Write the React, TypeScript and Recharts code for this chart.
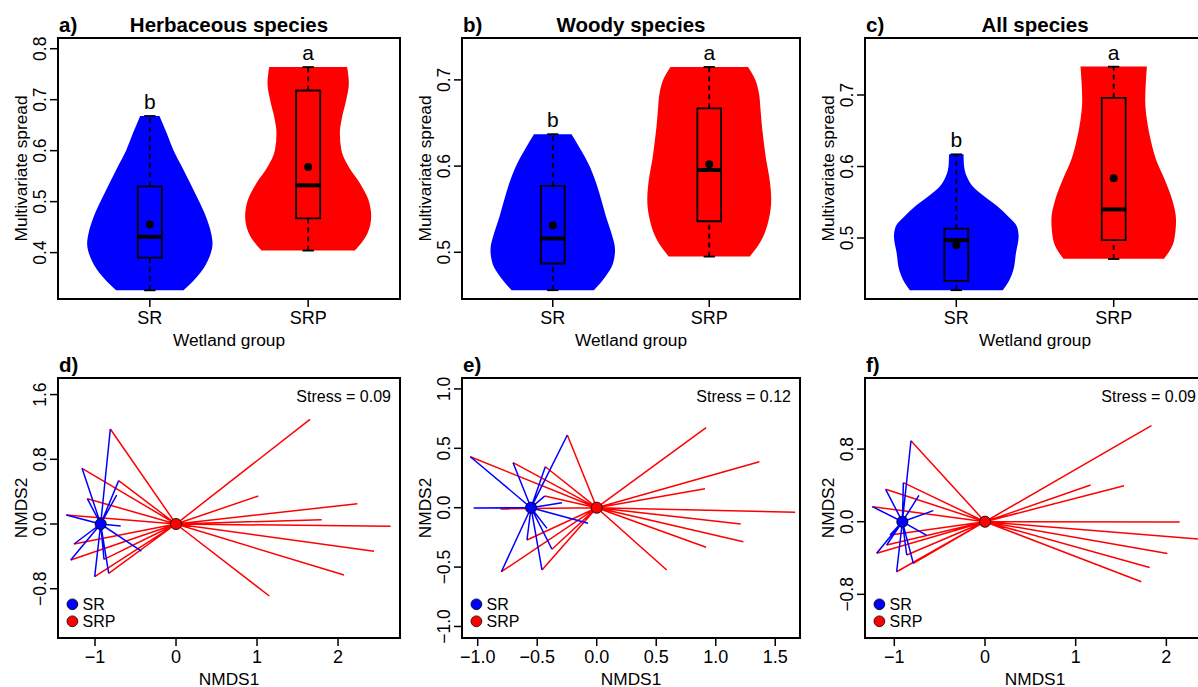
import React from "react";
import {
  ComposedChart,
  Area,
  Line,
  XAxis,
  YAxis,
  ReferenceArea,
  ReferenceLine,
  ReferenceDot,
} from "recharts";

const FONT = '"Liberation Sans", Arial, Helvetica, sans-serif';
const BLUE = "#0000ff";
const RED = "#ff0000";

const groups = ["SR", "SRP"];
const groupColors = [BLUE, RED];

// ---------- top row: violins ----------
// violin outline = spread level + half width (in group units) at that level
const herbSrLevels = [0.326, 0.36, 0.392, 0.418, 0.438, 0.471, 0.503, 0.536, 0.569, 0.601, 0.634, 0.668];
const herbSrWidth = [0.213, 0.318, 0.377, 0.396, 0.387, 0.354, 0.307, 0.255, 0.202, 0.149, 0.107, 0.061];
const herbSrpLevels = [0.404, 0.438, 0.471, 0.503, 0.536, 0.569, 0.601, 0.634, 0.667, 0.699, 0.732, 0.764];
const herbSrpWidth = [0.295, 0.375, 0.398, 0.381, 0.327, 0.255, 0.21, 0.2, 0.215, 0.24, 0.257, 0.246];

const woodySrLevels = [0.456, 0.472, 0.487, 0.503, 0.522, 0.541, 0.561, 0.58, 0.599, 0.619, 0.637];
const woodySrWidth = [0.263, 0.337, 0.385, 0.398, 0.375, 0.341, 0.31, 0.278, 0.238, 0.179, 0.12];
const woodySrpLevels = [0.495, 0.514, 0.537, 0.561, 0.588, 0.607, 0.626, 0.646, 0.665, 0.684, 0.7, 0.715];
const woodySrpWidth = [0.259, 0.333, 0.379, 0.396, 0.383, 0.364, 0.35, 0.337, 0.328, 0.318, 0.295, 0.248];

const allSrLevels = [0.427, 0.441, 0.455, 0.479, 0.502, 0.516, 0.53, 0.544, 0.558, 0.572, 0.586, 0.604, 0.617];
const allSrWidth = [0.295, 0.337, 0.362, 0.379, 0.396, 0.385, 0.33, 0.263, 0.179, 0.105, 0.067, 0.048, 0.046];
const allSrpLevels = [0.471, 0.497, 0.525, 0.553, 0.581, 0.609, 0.637, 0.665, 0.693, 0.721, 0.74];
const allSrpWidth = [0.32, 0.384, 0.396, 0.372, 0.325, 0.27, 0.235, 0.211, 0.2, 0.205, 0.211];

// box stats: min, q1, median, mean, q3, max
const herbSrStats = [0.326, 0.39, 0.431, 0.455, 0.53, 0.668];
const herbSrpStats = [0.404, 0.467, 0.532, 0.568, 0.718, 0.764];
const woodySrStats = [0.456, 0.487, 0.516, 0.531, 0.577, 0.637];
const woodySrpStats = [0.495, 0.536, 0.5955, 0.602, 0.667, 0.715];
const allSrStats = [0.427, 0.44, 0.497, 0.49, 0.513, 0.617];
const allSrpStats = [0.4706, 0.497, 0.54, 0.5835, 0.696, 0.7396];

const herbLetters = ["b", "a"];
const woodyLetters = ["b", "a"];
const allLetters = ["b", "a"];

const herbTicks = [0.4, 0.5, 0.6, 0.7, 0.8];
const woodyTicks = [0.5, 0.6, 0.7];
const allTicks = [0.5, 0.6, 0.7];

// ---------- bottom row: NMDS spiders ----------
const herbSrCentroid = [-0.93, 0];
const herbSrpCentroid = [0, 0];
const herbSrX = [-0.811, -1.16, -0.708, -0.733, -1.095, -1.354, -0.683, -1.259, -1.3, -1.004, -0.831, -0.889, -0.428];
const herbSrY = [1.174, 0.688, 0.536, 0.358, 0.313, 0.111, -0.025, -0.247, -0.445, -0.651, -0.61, -0.437, -0.334];
const herbSrpX = [-0.811, -1.16, -0.708, -1.095, -1.354, -1.259, -1.3, -1.004, -0.831, -0.889, 1.654, 1.016, 2.239, 1.798, 2.65, 2.444, 2.074, 1.152];
const herbSrpY = [1.174, 0.688, 0.536, 0.313, 0.111, -0.247, -0.445, -0.651, -0.61, -0.437, 1.294, 0.346, 0.251, 0.054, -0.029, -0.338, -0.63, -0.89];

const woodySrCentroid = [-0.552, 0];
const woodySrpCentroid = [0, 0];
const woodySrX = [-0.247, -1.062, -0.703, -0.432, -0.437, -0.292, -1.034, -0.073, -0.418, -0.586, -0.376, -0.801, -0.46];
const woodySrY = [0.612, 0.429, 0.379, 0.345, 0.098, 0.042, -0.003, -0.131, -0.174, -0.272, -0.35, -0.539, -0.524];
const woodySrpX = [-0.247, -1.062, -0.703, -0.432, -0.437, -0.81, -0.586, -0.376, -0.801, -0.46, 0.919, 1.367, 0.91, 1.667, 1.21, 1.232, 0.919, 0.588];
const woodySrpY = [0.612, 0.429, 0.379, 0.345, 0.098, -0.01, -0.272, -0.35, -0.539, -0.524, 0.675, 0.387, 0.16, -0.039, -0.137, -0.286, -0.333, -0.524];

const allSrCentroid = [-0.911, 0];
const allSrpCentroid = [0, 0];
const allSrX = [-0.816, -0.9, -1.095, -0.728, -1.242, -0.57, -0.643, -1.047, -1.194, -0.974, -0.79, -0.863, -1.084];
const allSrY = [0.892, 0.43, 0.357, 0.29, 0.166, 0.122, -0.15, -0.147, -0.348, -0.551, -0.459, -0.367, -0.257];
const allSrpX = [-0.816, -0.9, -1.095, -1.242, -1.047, -1.194, -0.974, -0.79, -1.084, -0.863, 1.835, 1.165, 1.533, 2.147, 2.45, 2.011, 1.816, 1.724];
const allSrpY = [0.892, 0.43, 0.357, 0.166, -0.147, -0.348, -0.551, -0.459, -0.257, -0.367, 1.059, 0.404, 0.397, -0.004, -0.2, -0.349, -0.504, -0.662];

const herbStress = "Stress = 0.09";
const woodyStress = "Stress = 0.12";
const allStress = "Stress = 0.09";

// ---------- layout ----------
const AXIS_W = 58;
const TOP_M = 38;
const AXIS_H = 50;
const RIGHT_M = 4;
const CAT_DOMAIN = [0.42, 2.58];
const BOX_HALF = 0.076;
const CAP_HALF = 0.036;
const tickLineStyle = { stroke: "#000", strokeWidth: 1.5 };

const fmtNum = (d: number) => (v: number) => v.toFixed(d).replace("-", "\u2212");

const violinRows = (levels: number[], widths: number[], center: number) =>
  levels.map((v, i) => ({ v, w: [center - widths[i], center + widths[i]] }));

const starRows = (c: number[], xs: number[], ys: number[]) => {
  const rows: { x: number; y: number }[] = [];
  xs.forEach((x, i) => {
    rows.push({ x: c[0], y: c[1] });
    rows.push({ x, y: ys[i] });
  });
  rows.push({ x: c[0], y: c[1] });
  return rows;
};

function YTick(props: any) {
  const { x, y, payload, fmt } = props;
  return (
    <text x={x} y={y} transform={`rotate(-90 ${x} ${y})`} textAnchor="middle" dy="0.36em" fontSize={17.5} fontFamily={FONT} fill="#000">
      {fmt(payload.value)}
    </text>
  );
}

function XTick(props: any) {
  const { x, y, payload, fmt } = props;
  return (
    <text x={x} y={y} textAnchor="middle" dy="0.36em" fontSize={18} fontFamily={FONT} fill="#000">
      {fmt(payload.value)}
    </text>
  );
}

function PanelDecor(props: any) {
  const { viewBox, tag, title, xTitle, yTitle, stress, legend } = props;
  if (!viewBox) return null;
  const { x, y, width, height } = viewBox;
  const yx = x - 37.7;
  const yy = y + height / 2;
  return (
    <g fontFamily={FONT} fill="#000">
      <text x={x + 1} y={y - 6.5} fontSize={20.5} fontWeight="bold">{tag}</text>
      {title && (
        <text x={x + width / 2} y={y - 6.5} textAnchor="middle" fontSize={20.5} fontWeight="bold">{title}</text>
      )}
      <text x={x + width / 2} y={y + height + 46.5} textAnchor="middle" fontSize={17.3}>{xTitle}</text>
      <text x={yx} y={yy} transform={`rotate(-90 ${yx} ${yy})`} textAnchor="middle" dy="0.36em" fontSize={17.3}>{yTitle}</text>
      {stress && (
        <text x={x + width - 9} y={y + 24} textAnchor="end" fontSize={16}>{stress}</text>
      )}
      {legend &&
        groups.map((g, i) => {
          const cy = y + height - 33.7 + i * 17;
          return (
            <g key={g}>
              <circle cx={x + 14.4} cy={cy} r={5.4} fill={groupColors[i]} stroke="#000" strokeWidth={0.8} />
              <text x={x + 24.5} y={cy} dy="0.36em" fontSize={16}>{g}</text>
            </g>
          );
        })}
    </g>
  );
}

const violinPanels = [
  {
    tag: "a)", title: "Herbaceous species",
    box: { left: 58, top: 38, width: 342, height: 261 },
    yDomain: [0.309, 0.821], yTicks: herbTicks,
    levels: [herbSrLevels, herbSrpLevels], widths: [herbSrWidth, herbSrpWidth],
    stats: [herbSrStats, herbSrpStats], letters: herbLetters,
  },
  {
    tag: "b)", title: "Woody species",
    box: { left: 462, top: 38, width: 338, height: 261 },
    yDomain: [0.4458, 0.7486], yTicks: woodyTicks,
    levels: [woodySrLevels, woodySrpLevels], widths: [woodySrWidth, woodySrpWidth],
    stats: [woodySrStats, woodySrpStats], letters: woodyLetters,
  },
  {
    tag: "c)", title: "All species",
    box: { left: 865, top: 38, width: 340, height: 261 },
    yDomain: [0.4147, 0.7797], yTicks: allTicks,
    levels: [allSrLevels, allSrpLevels], widths: [allSrWidth, allSrpWidth],
    stats: [allSrStats, allSrpStats], letters: allLetters,
  },
];

const spiderPanels = [
  {
    tag: "d)", stress: herbStress,
    box: { left: 58, top: 378, width: 342, height: 260 },
    xDomain: [-1.457, 2.765], yDomain: [-1.409, 1.805],
    xTicks: [-1, 0, 1, 2], yTicks: [-0.8, 0, 0.8, 1.6], xDigits: 0,
    centroids: [herbSrCentroid, herbSrpCentroid],
    xs: [herbSrX, herbSrpX], ys: [herbSrY, herbSrpY],
  },
  {
    tag: "e)", stress: woodyStress,
    box: { left: 462, top: 378, width: 338, height: 260 },
    xDomain: [-1.132, 1.708], yDomain: [-1.097, 1.092],
    xTicks: [-1, -0.5, 0, 0.5, 1, 1.5], yTicks: [-1, -0.5, 0, 0.5, 1], xDigits: 1,
    centroids: [woodySrCentroid, woodySrpCentroid],
    xs: [woodySrX, woodySrpX], ys: [woodySrY, woodySrpY],
  },
  {
    tag: "f)", stress: allStress,
    box: { left: 865, top: 378, width: 340, height: 260 },
    xDomain: [-1.323, 2.426], yDomain: [-1.281, 1.583],
    xTicks: [-1, 0, 1, 2], yTicks: [-0.8, 0, 0.8], xDigits: 0,
    centroids: [allSrCentroid, allSrpCentroid],
    xs: [allSrX, allSrpX], ys: [allSrY, allSrpY],
  },
];

function ViolinPanel({ p }: { p: (typeof violinPanels)[number] }) {
  const { box } = p;
  return (
    <div style={{ position: "absolute", left: box.left - AXIS_W, top: box.top - TOP_M }}>
      <ComposedChart
        width={AXIS_W + box.width + RIGHT_M}
        height={TOP_M + box.height + AXIS_H}
        layout="vertical"
        margin={{ top: TOP_M, right: RIGHT_M, bottom: 0, left: 0 }}
      >
        <XAxis
          type="number"
          domain={CAT_DOMAIN}
          ticks={[1, 2]}
          allowDataOverflow
          interval={0}
          height={AXIS_H}
          axisLine={false}
          tickLine={tickLineStyle}
          tickSize={8}
          tickMargin={11}
          tick={<XTick fmt={(v: number) => groups[v - 1]} />}
        />
        <YAxis
          type="number"
          dataKey="v"
          domain={p.yDomain}
          ticks={p.yTicks}
          reversed
          allowDataOverflow
          interval={0}
          width={AXIS_W}
          axisLine={false}
          tickLine={tickLineStyle}
          tickSize={8}
          tickMargin={10}
          tick={<YTick fmt={fmtNum(1)} />}
        />
        {groups.map((g, i) => (
          <Area
            key={g}
            name={g}
            data={violinRows(p.levels[i], p.widths[i], i + 1)}
            dataKey="w"
            type="monotone"
            fill={groupColors[i]}
            fillOpacity={1}
            stroke="none"
            isAnimationActive={false}
          />
        ))}
        {p.stats.map((s, i) => {
          const c = i + 1;
          const [min, q1, med, mean, q3, max] = s;
          return (
            <React.Fragment key={groups[i]}>
              <ReferenceLine segment={[{ x: c, y: q3 }, { x: c, y: max }]} stroke="#000" strokeWidth={1.8} strokeDasharray="5 4" />
              <ReferenceLine segment={[{ x: c, y: min }, { x: c, y: q1 }]} stroke="#000" strokeWidth={1.8} strokeDasharray="5 4" />
              <ReferenceLine segment={[{ x: c - CAP_HALF, y: max }, { x: c + CAP_HALF, y: max }]} stroke="#000" strokeWidth={1.8} />
              <ReferenceLine segment={[{ x: c - CAP_HALF, y: min }, { x: c + CAP_HALF, y: min }]} stroke="#000" strokeWidth={1.8} />
              <ReferenceArea x1={c - BOX_HALF} x2={c + BOX_HALF} y1={q1} y2={q3} fill="none" fillOpacity={0} stroke="#000" strokeWidth={1.8} ifOverflow="visible" zIndex={450} />
              <ReferenceLine segment={[{ x: c - BOX_HALF, y: med }, { x: c + BOX_HALF, y: med }]} stroke="#000" strokeWidth={4} />
              <ReferenceDot x={c} y={mean} r={4} fill="#000" stroke="none" />
              <ReferenceDot
                x={c}
                y={max}
                r={0}
                fill="none"
                stroke="none"
                label={{ value: p.letters[i], position: "top", offset: 7, fontSize: 21, fill: "#000", fontFamily: FONT }}
              />
            </React.Fragment>
          );
        })}
        <ReferenceArea
          x1={CAT_DOMAIN[0]}
          x2={CAT_DOMAIN[1]}
          y1={p.yDomain[0]}
          y2={p.yDomain[1]}
          fill="none"
          fillOpacity={0}
          stroke="#000"
          strokeWidth={2}
          ifOverflow="visible"
          zIndex={500}
          label={(lp: any) => (
            <PanelDecor viewBox={lp.viewBox} tag={p.tag} title={p.title} xTitle="Wetland group" yTitle="Multivariate spread" />
          )}
        />
      </ComposedChart>
    </div>
  );
}

function SpiderPanel({ p }: { p: (typeof spiderPanels)[number] }) {
  const { box } = p;
  // red (SRP) drawn first, then blue (SR) on top
  const order = [1, 0];
  return (
    <div style={{ position: "absolute", left: box.left - AXIS_W, top: box.top - TOP_M }}>
      <ComposedChart
        width={AXIS_W + box.width + RIGHT_M}
        height={TOP_M + box.height + AXIS_H}
        margin={{ top: TOP_M, right: RIGHT_M, bottom: 0, left: 0 }}
      >
        <XAxis
          type="number"
          dataKey="x"
          domain={p.xDomain}
          ticks={p.xTicks}
          allowDataOverflow
          interval={0}
          height={AXIS_H}
          axisLine={false}
          tickLine={tickLineStyle}
          tickSize={8}
          tickMargin={11}
          tick={<XTick fmt={fmtNum(p.xDigits)} />}
        />
        <YAxis
          type="number"
          domain={p.yDomain}
          ticks={p.yTicks}
          allowDataOverflow
          interval={0}
          width={AXIS_W}
          axisLine={false}
          tickLine={tickLineStyle}
          tickSize={8}
          tickMargin={10}
          tick={<YTick fmt={fmtNum(1)} />}
        />
        {order.map((i) => (
          <Line
            key={groups[i]}
            name={groups[i]}
            data={starRows(p.centroids[i], p.xs[i], p.ys[i])}
            dataKey="y"
            stroke={groupColors[i]}
            strokeWidth={1.5}
            dot={false}
            activeDot={false}
            isAnimationActive={false}
          />
        ))}
        {order.map((i) => (
          <ReferenceDot
            key={groups[i]}
            x={p.centroids[i][0]}
            y={p.centroids[i][1]}
            r={5.6}
            fill={groupColors[i]}
            stroke="#000"
            strokeWidth={0.8}
          />
        ))}
        <ReferenceArea
          x1={p.xDomain[0]}
          x2={p.xDomain[1]}
          y1={p.yDomain[0]}
          y2={p.yDomain[1]}
          fill="none"
          fillOpacity={0}
          stroke="#000"
          strokeWidth={2}
          ifOverflow="visible"
          zIndex={500}
          label={(lp: any) => (
            <PanelDecor viewBox={lp.viewBox} tag={p.tag} xTitle="NMDS1" yTitle="NMDS2" stress={p.stress} legend />
          )}
        />
      </ComposedChart>
    </div>
  );
}

export default function App() {
  return (
    <div
      style={{
        position: "absolute",
        left: 0,
        top: 0,
        width: 1198,
        height: 687,
        overflow: "hidden",
        background: "#fff",
        fontFamily: FONT,
      }}
    >
      {violinPanels.map((p) => (
        <ViolinPanel key={p.tag} p={p} />
      ))}
      {spiderPanels.map((p) => (
        <SpiderPanel key={p.tag} p={p} />
      ))}
    </div>
  );
}
